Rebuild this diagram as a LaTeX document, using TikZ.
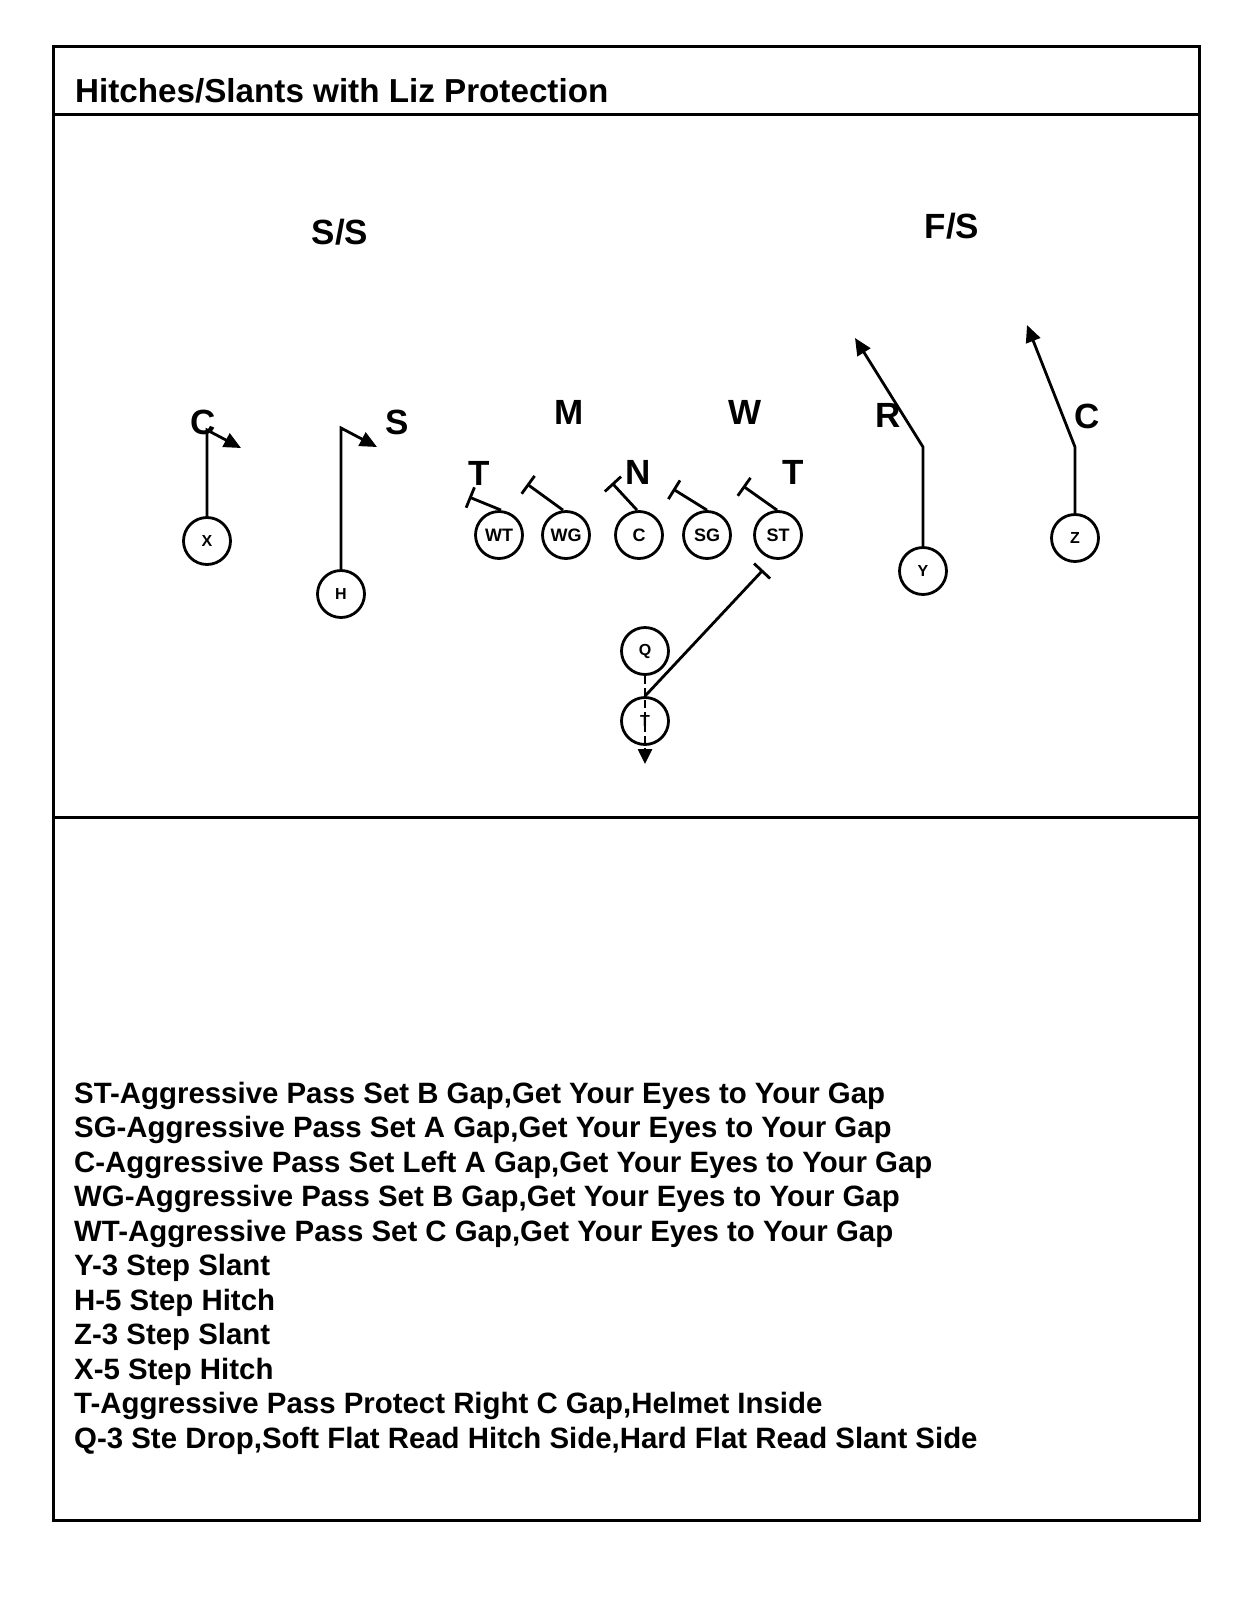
\documentclass[tikz,border=0pt]{standalone}
\usepackage{fontspec}
\setmainfont{Liberation Sans}
\usetikzlibrary{arrows.meta}
\begin{document}
\begin{tikzpicture}[x=1pt,y=-1pt,
  frame/.style={line width=3pt},
  player/.style={circle, draw, line width=2.8pt, minimum size=47pt, inner sep=0pt, font=\fontsize{16}{16}\selectfont\bfseries},
  lineman/.style={player, font=\fontsize{18}{18}\selectfont\bfseries},
  deflabel/.style={font=\fontsize{35}{35}\selectfont\bfseries, inner sep=0pt},
  route/.style={line width=2.8pt, -{Triangle[length=17pt,width=15pt]}},
  blockline/.style={line width=2.8pt, -{Bar[width=22pt,line width=2.8pt]}},
  qdrop/.style={line width=2.6pt, dash pattern=on 8pt off 4pt, -{Triangle[length=15pt,width=14pt]}},
  bodytext/.style={anchor=base west, inner sep=0pt, font=\fontsize{29.4}{34}\selectfont\bfseries}]
\useasboundingbox (0,0) rectangle (1237,1600);
% frame
\draw[frame] (53,47) rectangle (1199,1520);
\draw[frame] (53,115) -- (1199,115);
\draw[frame] (53,817) -- (1199,817);
% title
\node[anchor=base west, inner sep=0pt, font=\fontsize{33.2}{33}\selectfont\bfseries] (title) at (75,103) {Hitches/Slants with Liz Protection};
% defense
\node[deflabel] (SS) at (340,232) {S/S};
\node[deflabel] (FS) at (952,226) {F/S};
\node[deflabel] (CL) at (203,422) {C};
\node[deflabel] (SL) at (397,422) {S};
\node[deflabel] (M) at (569,412) {M};
\node[deflabel] (W) at (745,412) {W};
\node[deflabel] (R) at (888,415) {R};
\node[deflabel] (CR) at (1087,416) {C};
\node[deflabel] (TL) at (479,473) {T};
\node[deflabel] (N) at (638,472) {N};
\node[deflabel] (TR) at (793,472) {T};
% offense
\node[player] (X) at (207,541) {X};
\node[player] (H) at (341,594) {H};
\node[lineman] (WT) at (499,535) {WT};
\node[lineman] (WG) at (566,535) {WG};
\node[lineman] (C) at (639,535) {C};
\node[lineman] (SG) at (707,535) {SG};
\node[lineman] (ST) at (778,535) {ST};
\node[player] (Y) at (923,571) {Y};
\node[player] (Z) at (1075,538) {Z};
\node[player] (Q) at (645,651) {Q};
\node[player] (T) at (645,721) {T};
% route coordinates
\coordinate (xb) at (207,430);
\coordinate (xe) at (241,448);
\coordinate (hb) at (341,428);
\coordinate (he) at (377,447);
\coordinate (yb) at (923,447);
\coordinate (ye) at (855,338);
\coordinate (zb) at (1075,447);
\coordinate (ze) at (1027,325);
\coordinate (bWT) at (469,497);
\coordinate (bWG) at (527,484);
\coordinate (bC) at (612,483);
\coordinate (bSG) at (673,489);
\coordinate (bST) at (743,486);
\coordinate (bT) at (763,570);
\coordinate (qe) at (645,764);
% routes
\draw[route] (X.north) -- (xb) -- (xe);
\draw[route] (H.north) -- (hb) -- (he);
\draw[route] (Y.north) -- (yb) -- (ye);
\draw[route] (Z.north) -- (zb) -- (ze);
% blocks
\draw[blockline] ([xshift=2pt]WT.north) -- (bWT);
\draw[blockline] ([xshift=-3pt]WG.north) -- (bWG);
\draw[blockline] ([xshift=-2pt]C.north) -- (bC);
\draw[blockline] ([xshift=0pt]SG.north) -- (bSG);
\draw[blockline] ([xshift=-1pt]ST.north) -- (bST);
\draw[blockline] (T.north) -- (bT);
\draw[qdrop] (Q.south) -- (qe);
% notes
\node[bodytext] (l1) at (74,1103) {ST-Aggressive Pass Set B Gap,Get Your Eyes to Your Gap};
\node[bodytext] (l2) at (74,1137.5) {SG-Aggressive Pass Set A Gap,Get Your Eyes to Your Gap};
\node[bodytext] (l3) at (74,1172) {C-Aggressive Pass Set Left A Gap,Get Your Eyes to Your Gap};
\node[bodytext] (l4) at (74,1206.5) {WG-Aggressive Pass Set B Gap,Get Your Eyes to Your Gap};
\node[bodytext] (l5) at (74,1241) {WT-Aggressive Pass Set C Gap,Get Your Eyes to Your Gap};
\node[bodytext] (l6) at (74,1275.5) {Y-3 Step Slant};
\node[bodytext] (l7) at (74,1310) {H-5 Step Hitch};
\node[bodytext] (l8) at (74,1344.5) {Z-3 Step Slant};
\node[bodytext] (l9) at (74,1379) {X-5 Step Hitch};
\node[bodytext] (l10) at (74,1413.5) {T-Aggressive Pass Protect Right C Gap,Helmet Inside};
\node[bodytext] (l11) at (74,1448) {Q-3 Ste Drop,Soft Flat Read Hitch Side,Hard Flat Read Slant Side};
\end{tikzpicture}
\end{document}
